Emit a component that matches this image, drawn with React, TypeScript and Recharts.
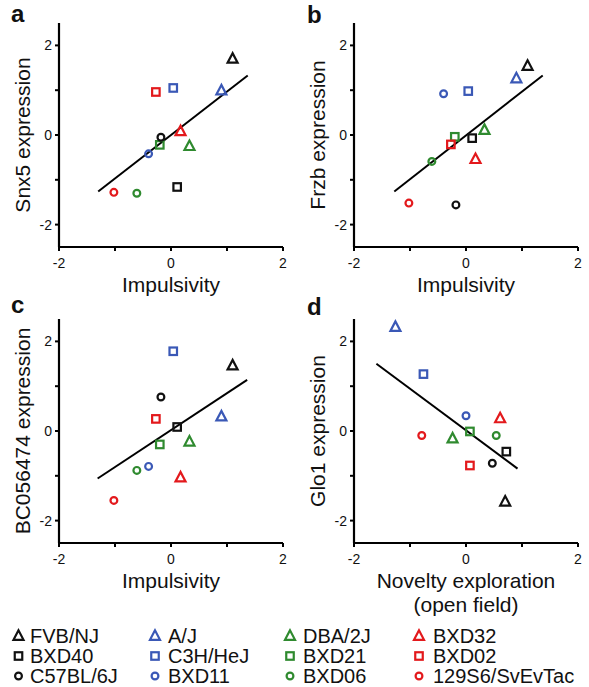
import { ScatterChart, Scatter, XAxis, YAxis, ReferenceLine, Label } from "recharts";

// strain order: triangles, squares, circles (legend row by row)
const strains = [
  "FVB/NJ", "A/J", "DBA/2J", "BXD32",
  "BXD40", "C3H/HeJ", "BXD21", "BXD02",
  "C57BL/6J", "BXD11", "BXD06", "129S6/SvEvTac",
];
const shapes = [
  "tri", "tri", "tri", "tri",
  "sq", "sq", "sq", "sq",
  "circ", "circ", "circ", "circ",
];
const BLACK = "#111111";
const BLUE = "#3a58b6";
const GREEN = "#2f8a2f";
const RED = "#e3191c";
const colors = [
  BLACK, BLUE, GREEN, RED,
  BLACK, BLUE, GREEN, RED,
  BLACK, BLUE, GREEN, RED,
];

const impulsivity = [1.1, 0.9, 0.33, 0.17, 0.11, 0.04, -0.2, -0.27, -0.18, -0.4, -0.61, -1.02];
const snx5 = [1.7, 0.99, -0.25, 0.08, -1.16, 1.05, -0.22, 0.96, -0.05, -0.42, -1.3, -1.28];
const frzb = [1.54, 1.26, 0.11, -0.54, -0.07, 0.98, -0.04, -0.21, -1.56, 0.92, -0.59, -1.52];
const bc056474 = [1.46, 0.32, -0.24, -1.04, 0.09, 1.78, -0.3, 0.27, 0.76, -0.79, -0.88, -1.55];
const novelty = [0.7, -1.26, -0.24, 0.61, 0.72, -0.76, 0.07, 0.07, 0.47, 0.0, 0.54, -0.79];
const glo1 = [-1.58, 2.32, -0.17, 0.28, -0.46, 1.27, -0.01, -0.77, -0.72, 0.34, -0.1, -0.1];

// regression line end points [x0, y0, x1, y1]
const fitA = [-1.3, -1.26, 1.37, 1.33];
const fitB = [-1.28, -1.26, 1.37, 1.33];
const fitC = [-1.31, -1.06, 1.36, 1.14];
const fitD = [-1.6, 1.5, 0.92, -0.84];

const xTicks = [-2, -1, 0, 1, 2];
const yTicks = [-2, -1, 0, 1, 2];

const FONT = "'Liberation Sans', Arial, Helvetica, sans-serif";

function Marker({ cx, cy, kind, color }: { cx: number; cy: number; kind: string; color: string }) {
  const sw = 2.2;
  if (kind === "tri") {
    const w = 10, h = 9.5;
    const pts = `${cx},${cy - h * 0.6} ${cx - w / 2},${cy + h * 0.4} ${cx + w / 2},${cy + h * 0.4}`;
    return <polygon points={pts} fill="none" stroke={color} strokeWidth={sw} />;
  }
  if (kind === "sq") {
    const s = 7.5;
    return <rect x={cx - s / 2} y={cy - s / 2} width={s} height={s} fill="none" stroke={color} strokeWidth={sw} />;
  }
  return <circle cx={cx} cy={cy} r={3.4} fill="none" stroke={color} strokeWidth={sw} />;
}

const tickFmt = (v: number) => (v % 2 === 0 ? String(v) : "");

interface PanelProps {
  left: number;
  top: number;
  xs: number[];
  ys: number[];
  fit: number[];
  yTitle: string;
  xTitle: string[];
}

function Panel({ left, top, xs, ys, fit, yTitle, xTitle }: PanelProps) {
  return (
    <div style={{ position: "absolute", left, top }}>
      <ScatterChart width={294} height={320} margin={{ top: 23, right: 11, left: 0, bottom: 0 }}>
        <XAxis
          type="number"
          dataKey="x"
          domain={[-2, 2]}
          ticks={xTicks}
          tickFormatter={tickFmt}
          height={73}
          tickSize={4}
          tickMargin={7}
          axisLine={{ stroke: "#000", strokeWidth: 2.2 }}
          tickLine={{ stroke: "#000", strokeWidth: 2 }}
          tick={{ fontSize: 14, fill: "#111", fontFamily: FONT }}
          allowDataOverflow
        >
          <Label
            content={(p: any) => {
              const vb = p.viewBox || {};
              const cx = vb.x + vb.width / 2;
              return (
                <text textAnchor="middle" fontSize={21} fontFamily={FONT} fill="#111">
                  {xTitle.map((t, i) => (
                    <tspan key={i} x={cx} y={vb.y + 45 + i * 24}>
                      {t}
                    </tspan>
                  ))}
                </text>
              );
            }}
          />
        </XAxis>
        <YAxis
          type="number"
          dataKey="y"
          domain={[-2.5, 2.5]}
          ticks={yTicks}
          tickFormatter={tickFmt}
          width={59}
          tickSize={4}
          tickMargin={3}
          axisLine={{ stroke: "#000", strokeWidth: 2.2 }}
          tickLine={{ stroke: "#000", strokeWidth: 2 }}
          tick={{ fontSize: 14, fill: "#111", fontFamily: FONT }}
          allowDataOverflow
        >
          <Label
            content={(p: any) => {
              const vb = p.viewBox || {};
              const cx = vb.x + vb.width - 37;
              const cy = vb.y + vb.height / 2;
              return (
                <text
                  x={cx}
                  y={cy}
                  transform={`rotate(-90 ${cx} ${cy})`}
                  textAnchor="middle"
                  dominantBaseline="central"
                  fontSize={21}
                  fontFamily={FONT}
                  fill="#111"
                >
                  {yTitle}
                </text>
              );
            }}
          />
        </YAxis>
        <ReferenceLine
          segment={[
            { x: fit[0], y: fit[1] },
            { x: fit[2], y: fit[3] },
          ]}
          stroke="#000"
          strokeWidth={2}
          ifOverflow="visible"
        />
        {strains.map((s, i) => (
          <Scatter
            key={s}
            name={s}
            data={[{ x: xs[i], y: ys[i] }]}
            isAnimationActive={false}
            shape={(p: any) => <Marker cx={p.cx} cy={p.cy} kind={shapes[i]} color={colors[i]} />}
          />
        ))}
      </ScatterChart>
    </div>
  );
}

const legendTextX = [30, 168, 303, 433];
const legendMarkX = [18.5, 155, 290, 419];
const legendRowY = [636, 656, 676];

export default function App() {
  return (
    <div style={{ position: "absolute", left: 0, top: 0, width: 589, height: 687, background: "#fff", overflow: "hidden" }}>
      <Panel left={0} top={0} xs={impulsivity} ys={snx5} fit={fitA} yTitle="Snx5 expression" xTitle={["Impulsivity"]} />
      <Panel left={295} top={0} xs={impulsivity} ys={frzb} fit={fitB} yTitle="Frzb expression" xTitle={["Impulsivity"]} />
      <Panel left={0} top={296} xs={impulsivity} ys={bc056474} fit={fitC} yTitle="BC056474 expression" xTitle={["Impulsivity"]} />
      <Panel
        left={295}
        top={296}
        xs={novelty}
        ys={glo1}
        fit={fitD}
        yTitle="Glo1 expression"
        xTitle={["Novelty exploration", "(open field)"]}
      />
      <svg width={589} height={687} style={{ position: "absolute", left: 0, top: 0, pointerEvents: "none" }}>
        <g fontFamily={FONT} fontWeight="bold" fontSize={24} fill="#111">
          <text x={11} y={22}>a</text>
          <text x={307} y={23}>b</text>
          <text x={11} y={313}>c</text>
          <text x={307} y={315}>d</text>
        </g>
        <g fontFamily={FONT} fontSize={20} fill="#111">
          {strains.map((s, i) => {
            const col = i % 4;
            const row = Math.floor(i / 4);
            const y = legendRowY[row];
            return (
              <g key={s}>
                <Marker cx={legendMarkX[col]} cy={y} kind={shapes[i]} color={colors[i]} />
                <text x={legendTextX[col]} y={y + 7} textLength={undefined}>
                  {s}
                </text>
              </g>
            );
          })}
        </g>
      </svg>
    </div>
  );
}
